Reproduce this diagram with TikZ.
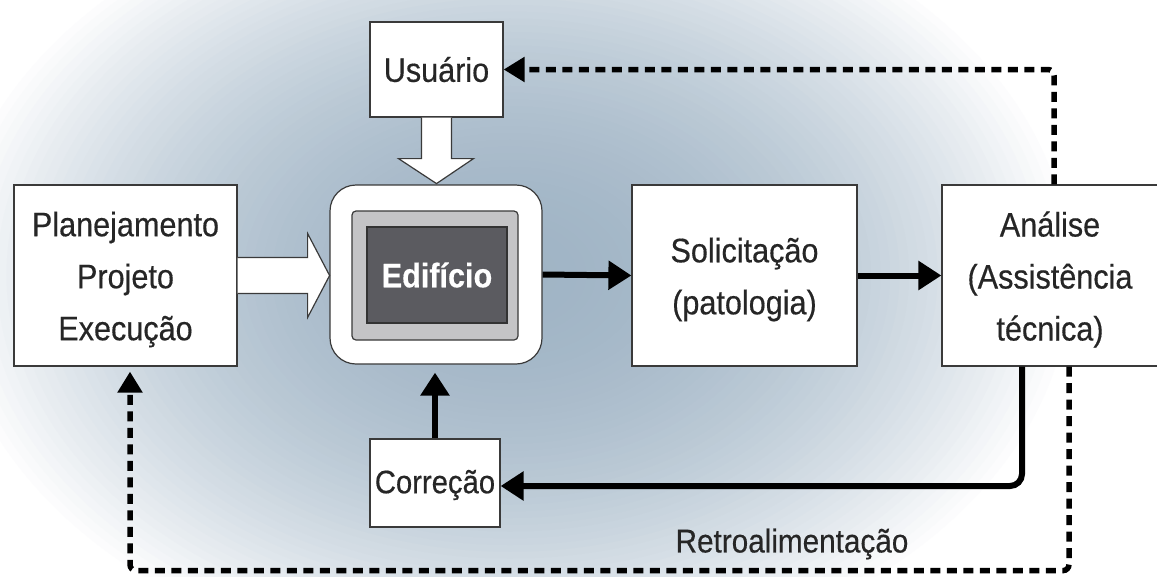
\documentclass[tikz,border=0pt]{standalone}
\usepackage{fontspec}
\setmainfont{Liberation Sans}[FakeStretch=0.9, FakeBold=0.4]
\usetikzlibrary{arrows.meta,calc}
\definecolor{bgA}{HTML}{A0B4C5}
\definecolor{boxline}{HTML}{3A3A3A}
\definecolor{txt}{HTML}{262626}
\definecolor{midgrey}{HTML}{C4C4C6}
\definecolor{darkfill}{HTML}{5B5B60}
\begin{document}
\begin{tikzpicture}[x=1pt,y=-1pt,
  box/.style={draw=boxline, line width=1.2pt, fill=white, inner sep=0pt},
  lbl/.style={text=txt, align=center, inner sep=0pt, yshift=-4pt,
    font=\fontsize{34}{52}\selectfont},
  conn/.style={line width=6pt, draw=black, -{Triangle[length=23pt,width=28pt]}},
  fbdash/.style={line width=5.5pt, draw=black, dash pattern=on 10pt off 6.5pt,
    rounded corners=6pt, -{Triangle[length=21pt,width=24pt]}},
  fatarrow/.style={draw=boxline, line width=1.2pt, line join=miter}
]
\useasboundingbox (0,0) rectangle (1157,576);
\fill[white] (0,0) rectangle (1157,576);
\begin{scope}
  \clip (0,0) rectangle (1157,576);
  \foreach \i in {0,...,59} {
    \pgfmathsetmacro\t{1-\i/60}
    \pgfmathsetmacro\p{100*(1-\t*\t)}
    \fill[bgA!\p!white] (510,275) ellipse [x radius={570*\t}, y radius={405*\t}];
  }
\end{scope}

% nodes
\node[box, minimum width=223pt, minimum height=181pt,
  label={[lbl]center:{Planejamento\\Projeto\\Execução}}] (plan) at (125.5,275.5) {};
\node[box, minimum width=133pt, minimum height=95pt,
  label={[lbl, yshift=4pt]center:{Usuário}}] (usr) at (436.5,69.5) {};
\node[box, rounded corners=26pt, minimum width=212pt, minimum height=179pt] (edif) at (436,274.5) {};
\node[draw=boxline, fill=midgrey, line width=1.2pt, rounded corners=4pt,
  minimum width=166pt, minimum height=129pt, inner sep=0pt] (edm) at (435,275.5) {};
\node[draw=black!80, fill=darkfill, line width=1.2pt, minimum width=140pt, minimum height=96pt,
  inner sep=0pt, text=white, font=\fontsize{34}{40}\selectfont\bfseries] (edi) at (437,275) {Edifício};
\node[box, minimum width=225pt, minimum height=181pt,
  label={[lbl]center:{Solicitação\\(patologia)}}] (sol) at (744.5,275.5) {};
\node[box, minimum width=216pt, minimum height=181pt,
  label={[lbl]center:{Análise\\(Assistência\\técnica)}}] (anal) at (1050,275.5) {};
\node[box, minimum width=130pt, minimum height=88pt,
  label={[lbl, yshift=2pt, font=\fontsize{32.5}{40}\selectfont]center:{Correção}}] (cor) at (435,483) {};
\node[text=txt, font=\fontsize{33}{40}\selectfont, inner sep=0pt] (retro) at (792,544) {Retroalimentação};

% fat arrow Usuario -> Edificio
\begin{scope}[shift={(usr.south)}]
  \fill[white] (-15,0) -- (-15,41) -- (-38,41) -- (0,66) -- (37,41) -- (15,41) -- (15,0) -- cycle;
  \draw[fatarrow] (-15,0) -- (-15,41) -- (-38,41) -- (0,66) -- (37,41) -- (15,41) -- (15,0);
\end{scope}
% fat arrow Planejamento -> Edificio
\begin{scope}[shift={(plan.east)}]
  \fill[white] (0,-18) -- (70,-18) -- (70,-42) -- (92,0) -- (70,42) -- (70,18) -- (0,18) -- cycle;
  \draw[fatarrow] (0,-18) -- (70,-18) -- (70,-42) -- (92,0) -- (70,42) -- (70,18) -- (0,18);
\end{scope}

% solid connectors
\draw[conn] (edif.east) -- (sol.west);
\draw[conn] (sol.east) -- (anal.west);
\draw[conn, shorten >=8pt] (cor.north) -- (cor.north |- edif.south);
\draw[conn, rounded corners=12pt] ($(anal.south)+(-28,0)$) |- ($(cor.east)+(0,3)$);

% dashed feedback
\draw[fbdash] ($(anal.north)+(4,0)$) |- (usr.east);
\draw[fbdash, shorten >=5pt] ($(anal.south)+(19,0)$) -- ++(0,204) -| ($(plan.south)+(4.5,0)$);
\end{tikzpicture}
\end{document}
